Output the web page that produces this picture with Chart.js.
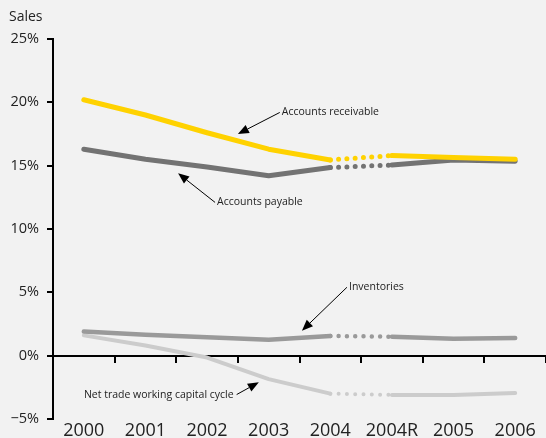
<!DOCTYPE html>
<html>
<head>
<meta charset="utf-8">
<script src="https://cdn.jsdelivr.net/npm/chart.js@4/dist/chart.umd.min.js"></script>
<style>
  html, body { margin: 0; padding: 0; background: #f2f2f2; }
  #wrap { position: relative; width: 546px; height: 438px; }
</style>
</head>
<body>
<div id="wrap"><canvas id="c" width="546" height="438"></canvas></div>
<script>
// Working-capital components as a share of sales
const years       = ['2000', '2001', '2002', '2003', '2004', '2004R', '2005', '2006'];
const receivable  = [20.2, 19.0, 17.6, 16.3, 15.45, 15.8, 15.65, 15.5];
const payable     = [16.3, 15.5, 14.9, 14.2, 14.85, 15.05, 15.45, 15.35];
const inventories = [1.9, 1.65, 1.45, 1.25, 1.55, 1.5, 1.33, 1.4];
const netCycle    = [1.6, 0.8, -0.15, -1.85, -3.0, -3.1, -3.1, -2.95];
const yTicks      = [-5, 0, 5, 10, 15, 20, 25];

// Callout labels: arrow head / tail given in (category index, percent)
const callouts = [
  { text: 'Accounts receivable', head: [2.5, 17.5], tail: [3.18, 19.2], side: 'right' },
  { text: 'Accounts payable', head: [1.53, 14.4], tail: [2.13, 12.1], side: 'right' },
  { text: 'Inventories', head: [3.54, 1.97], tail: [4.27, 5.4], side: 'right' },
  { text: 'Net trade working capital cycle', head: [2.84, -2.1], tail: [2.48, -3.07], side: 'left' }
];

const FONT = "'Open Sans', sans-serif";
const restated = 4; // segment 2004 -> 2004R is drawn dotted

function series(label, data, color, width) {
  return {
    label, data,
    borderColor: color,
    borderWidth: width,
    borderCapStyle: 'round',
    borderJoinStyle: 'round',
    pointRadius: 0,
    tension: 0,
    fill: false,
    segment: {
      borderDash: ctx => ctx.p0DataIndex === restated ? [0, 8.3] : undefined
    }
  };
}

const decorations = {
  id: 'decorations',
  afterDatasetsDraw(chart) {
    const ctx = chart.ctx;
    const xs = chart.scales.x, ys = chart.scales.y;
    ctx.save();
    // axis caption
    ctx.fillStyle = '#222';
    ctx.font = '14px ' + FONT;
    ctx.textAlign = 'left';
    ctx.textBaseline = 'middle';
    ctx.fillText('Sales', 9, 17);

    ctx.font = '10.5px ' + FONT;
    callouts.forEach(c => {
      const hx = xs.getPixelForValue(c.head[0]), hy = ys.getPixelForValue(c.head[1]);
      const tx = xs.getPixelForValue(c.tail[0]), ty = ys.getPixelForValue(c.tail[1]);
      const ang = Math.atan2(hy - ty, hx - tx);
      const hl = 11, hw = 4.5;
      const bx = hx - hl * Math.cos(ang), by = hy - hl * Math.sin(ang);
      ctx.strokeStyle = '#000';
      ctx.lineWidth = 1;
      ctx.beginPath();
      ctx.moveTo(tx, ty);
      ctx.lineTo(bx, by);
      ctx.stroke();
      ctx.fillStyle = '#000';
      ctx.beginPath();
      ctx.moveTo(hx, hy);
      ctx.lineTo(bx + hw * Math.sin(ang), by - hw * Math.cos(ang));
      ctx.lineTo(bx - hw * Math.sin(ang), by + hw * Math.cos(ang));
      ctx.closePath();
      ctx.fill();
      ctx.fillStyle = '#222';
      ctx.textBaseline = 'middle';
      if (c.side === 'right') {
        ctx.textAlign = 'left';
        ctx.fillText(c.text, tx + 2, ty);
      } else {
        ctx.textAlign = 'right';
        ctx.fillText(c.text, tx - 3, ty);
      }
    });
    ctx.restore();
  }
};

new Chart(document.getElementById('c'), {
  type: 'line',
  data: {
    labels: years,
    datasets: [
      series('Accounts receivable', receivable, '#ffd200', 5),
      series('Accounts payable', payable, '#737373', 5),
      series('Inventories', inventories, '#9a9a9a', 4.5),
      series('Net trade working capital cycle', netCycle, '#cccccc', 4)
    ]
  },
  options: {
    responsive: false,
    animation: false,
    layout: { padding: { top: 39, right: -3, left: 0, bottom: 0 } },
    plugins: { legend: { display: false }, tooltip: { enabled: false } },
    scales: {
      x: {
        type: 'category',
        position: { y: 0 },
        offset: true,
        ticks: { display: false },
        grid: { offset: true, drawOnChartArea: false, tickLength: 6, color: '#000', lineWidth: 2 },
        border: { display: true, color: '#000', width: 2 }
      },
      x2: {
        type: 'category',
        labels: years,
        position: 'bottom',
        offset: true,
        grid: { display: false, drawTicks: false },
        border: { display: false },
        ticks: { color: '#222', font: { family: FONT, size: 18 }, padding: 1, maxRotation: 0, autoSkip: false },
        afterFit: s => { s.height = 19; }
      },
      y: {
        type: 'linear',
        min: -5, max: 25,
        afterBuildTicks: s => { s.ticks = yTicks.map(v => ({ value: v })); },
        ticks: {
          color: '#222',
          font: { family: FONT, size: 14.5 },
          padding: 8,
          callback: v => (v < 0 ? '\u2212' + Math.abs(v) : v) + '%'
        },
        grid: { drawOnChartArea: false, tickLength: 6, color: '#000', lineWidth: 2 },
        border: { display: true, color: '#000', width: 2 },
        afterFit: s => { s.width = 53; }
      }
    }
  },
  plugins: [decorations]
});
</script>
</body>
</html>
